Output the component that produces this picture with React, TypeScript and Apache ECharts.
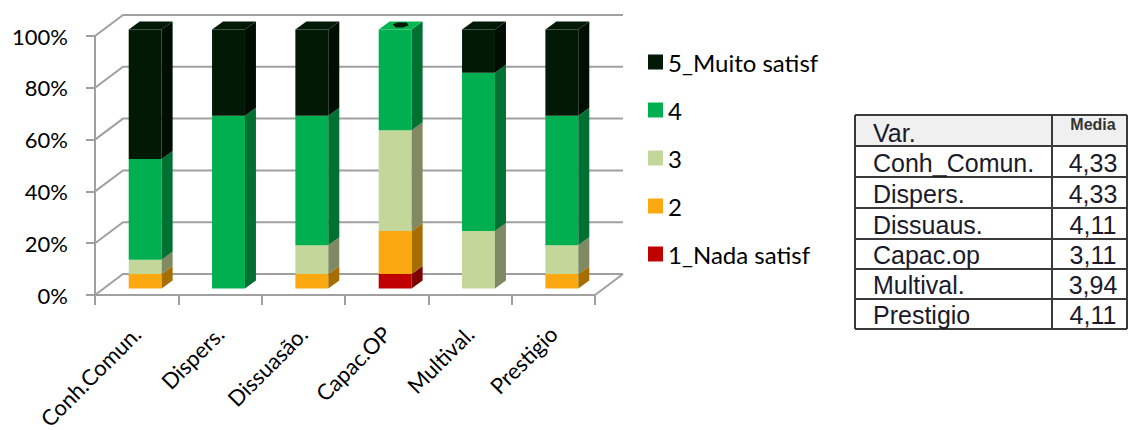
import React, { useEffect, useRef } from "react";
import * as echarts from "echarts";

const categories = ["Conh.Comun.", "Dispers.", "Dissuasão.", "Capac.OP", "Multival.", "Prestigio"];
const levelNames = ["1_Nada satisf", "2", "3", "4", "5_Muito satisf"];
const level1 = [0, 0, 0, 5.56, 0, 0];
const level2 = [5.56, 0, 5.56, 16.67, 0, 5.56];
const level3 = [5.56, 0, 11.11, 38.89, 22.22, 11.11];
const level4 = [38.89, 66.67, 50, 38.89, 61.11, 50];
const level5 = [50, 33.33, 33.33, 0, 16.67, 33.33];
const yTicks = [0, 20, 40, 60, 80, 100];

const tableHeader = ["Var.", "Media"];
const tableVars = ["Conh_Comun.", "Dispers.", "Dissuaus.", "Capac.op", "Multival.", "Prestigio"];
const tableMeans = ["4,33", "4,33", "4,11", "3,11", "3,94", "4,11"];

const frontColors = ["#c00000", "#fca811", "#c4d79b", "#00b050", "#021a05"];
const sideColors = ["#7e0000", "#a66e00", "#7f8a63", "#007033", "#000e02"];
const topColors = ["#d01010", "#fdb23a", "#d0e0ad", "#00b850", "#021a05"];

// 3D geometry (pixels)
const WDX = 28, WDY = -21; // back wall offset
const SDX = 11, SDY = -8; // bar depth
const BDX = (WDX - SDX) / 2, BDY = (WDY - SDY) / 2;
const GRID_LINE = "#a0a0a0";
const FONT = "Lato";

export default function App() {
  const ref = useRef<HTMLDivElement>(null);
  useEffect(() => {
    const chart = echarts.init(ref.current!, null, { renderer: "svg" });
    const levels = [level1, level2, level3, level4, level5];
    const topLevel = categories.map((_, i) => {
      let t = -1;
      levels.forEach((arr, k) => { if (arr[i] > 0) t = k; });
      return t;
    });
    const cum = categories.map(() => 0);
    const barSeries = levels.map((arr, k) => {
      const data = arr.map((v, i) => {
        const lo = cum[i];
        const hi = lo + v;
        cum[i] = hi;
        return [i, lo, hi, topLevel[i] === k ? 1 : 0];
      });
      return {
        type: "custom",
        name: levelNames[k],
        xAxisIndex: 0,
        yAxisIndex: 0,
        z: 3,
        silent: true,
        itemStyle: { color: frontColors[k] },
        encode: { x: 0, y: [1, 2] },
        data,
        renderItem: (params: any, api: any) => {
          const ci = api.value(0), lo = api.value(1), hi = api.value(2), isTop = api.value(3);
          const band = api.size([1, 0])[0];
          const w = band * 0.395;
          const c0 = api.coord([ci, lo]);
          const c1 = api.coord([ci, hi]);
          const x0 = c0[0] - w / 2 + BDX;
          const x1 = x0 + w;
          const yb = c0[1] + BDY;
          const yt = c1[1] + BDY;
          if (hi - lo <= 0) {
            // zero-height segment sitting on top of the stack: Excel leaves a small mark on the top face
            if (lo >= 99.9) {
              const cx = (x0 + x1 + SDX) / 2, cy = yt + SDY / 2;
              return {
                type: "polygon",
                shape: { points: [[cx - 8, cy - 1], [cx - 4, cy - 3], [cx + 6, cy - 3], [cx + 8, cy], [cx + 2, cy + 2], [cx - 5, cy + 2]] },
                style: { fill: frontColors[k] },
              };
            }
            return { type: "group", children: [] };
          }
          const children: any[] = [
            { type: "rect", shape: { x: x0, y: yt, width: w, height: yb - yt }, style: { fill: frontColors[k] } },
            {
              type: "polygon",
              shape: { points: [[x1, yt], [x1 + SDX, yt + SDY], [x1 + SDX, yb + SDY], [x1, yb]] },
              style: { fill: sideColors[k] },
            },
          ];
          if (isTop) {
            children.push({
              type: "polygon",
              shape: { points: [[x0, yt], [x0 + SDX, yt + SDY], [x1 + SDX, yt + SDY], [x1, yt]] },
              style: { fill: topColors[k] },
            });
          }
          return { type: "group", children };
        },
      };
    });

    const wallSeries = {
      type: "custom",
      name: "wall",
      xAxisIndex: 0,
      yAxisIndex: 0,
      z: 1,
      silent: true,
      encode: { x: 0, y: 1 },
      data: yTicks.map((v) => [0, v]),
      renderItem: (params: any, api: any) => {
        const cs = params.coordSys;
        const v = api.value(1);
        const y = api.coord([0, v])[1];
        const style = { stroke: GRID_LINE, lineWidth: 2, fill: "none" };
        const children: any[] = [
          { type: "polyline", shape: { points: [[cs.x, y], [cs.x + WDX, y + WDY], [cs.x + cs.width + WDX, y + WDY]] }, style },
        ];
        if (v === 0) {
          children.push({ type: "line", shape: { x1: cs.x + cs.width, y1: y, x2: cs.x + cs.width + WDX, y2: y + WDY }, style });
        }
        return { type: "group", children };
      },
    };

    // table graphic
    const tLeft = 855, tRight = 1127, tDiv = 1052, tTop = 115;
    const rowY = [115, 146, 177, 208, 239, 269, 299, 329];
    const tableFont = "25px 'Liberation Sans'";
    const tg: any[] = [];
    tg.push({ type: "rect", shape: { x: tLeft, y: rowY[0], width: tRight - tLeft, height: rowY[1] - rowY[0] }, style: { fill: "#f0f0f0" } });
    rowY.forEach((y) => tg.push({ type: "line", shape: { x1: tLeft, y1: y, x2: tRight, y2: y }, style: { stroke: "#3a3a3a", lineWidth: 2 } }));
    [tLeft, tDiv, tRight].forEach((x) => tg.push({ type: "line", shape: { x1: x, y1: tTop, x2: x, y2: rowY[7] }, style: { stroke: "#3a3a3a", lineWidth: 2 } }));
    tg.push({ type: "text", x: 873, y: (rowY[0] + rowY[1]) / 2 + 2, style: { text: tableHeader[0], font: tableFont, fill: "#1a1a2a", textVerticalAlign: "middle" } });
    tg.push({ type: "text", x: 1093, y: 124, style: { text: tableHeader[1], font: "bold 16px 'Liberation Sans'", fill: "#333", textAlign: "center", textVerticalAlign: "middle" } });
    tableVars.forEach((t, i) => {
      const yc = (rowY[i + 1] + rowY[i + 2]) / 2 + 1;
      tg.push({ type: "text", x: 873, y: yc, style: { text: t, font: tableFont, fill: "#1a1a2a", textVerticalAlign: "middle" } });
      tg.push({ type: "text", x: 1093, y: yc, style: { text: tableMeans[i], font: tableFont, fill: "#1a1a2a", textAlign: "center", textVerticalAlign: "middle" } });
    });

    const option: any = {
      animation: false,
      backgroundColor: "#ffffff",
      textStyle: { fontFamily: FONT },
      legend: {
        orient: "vertical",
        left: 643,
        top: 45,
        icon: "rect",
        itemWidth: 15,
        itemHeight: 15,
        itemGap: 24,
        data: levelNames.slice().reverse(),
        textStyle: { fontFamily: FONT, fontSize: 24, color: "#000", lineHeight: 24 },
        selectedMode: false,
      },
      grid: { left: 95, right: 533, top: 36, bottom: 135, containLabel: false, outerBoundsMode: "none" },
      xAxis: {
        type: "category",
        data: categories,
        axisLine: { show: true, lineStyle: { color: GRID_LINE, width: 2 } },
        axisTick: { show: true, length: 10, lineStyle: { color: GRID_LINE, width: 2 } },
        axisLabel: { show: true, rotate: 45, margin: 35, fontFamily: FONT, fontSize: 22, color: "#000" },
      },
      yAxis: {
        type: "value",
        min: 0,
        max: 100,
        interval: 20,
        axisLine: { show: true, lineStyle: { color: GRID_LINE, width: 2 } },
        axisTick: { show: true, length: 9, lineStyle: { color: GRID_LINE, width: 2 } },
        splitLine: { show: false },
        axisLabel: { margin: 27, fontFamily: FONT, fontSize: 22, color: "#000", formatter: (v: number) => v + "%" },
      },
      series: [wallSeries, ...barSeries],
      graphic: tg,
    };
    chart.setOption(option);
    return () => chart.dispose();
  }, []);
  return <div ref={ref} style={{ position: "fixed", left: 0, top: 0, width: 1128, height: 430, background: "#fff" }} />;
}
